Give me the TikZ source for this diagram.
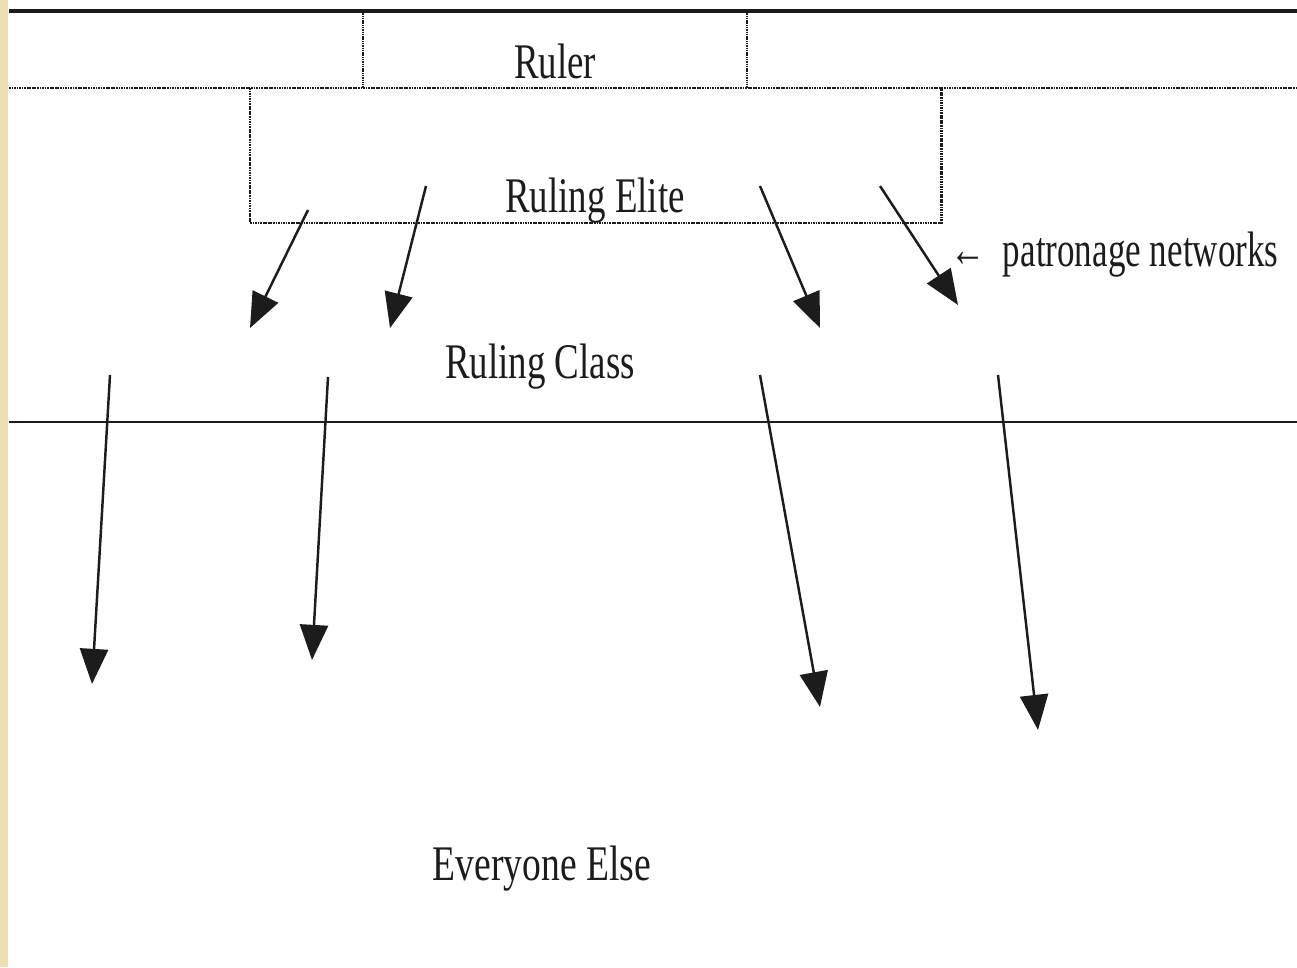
\documentclass[tikz,border=0pt]{standalone}
\usepackage{fontspec}
\setmainfont{Liberation Serif}
\usetikzlibrary{arrows.meta}
\definecolor{paper}{RGB}{238,222,180}
\definecolor{ink}{RGB}{28,28,28}
\begin{document}
\begin{tikzpicture}[x=0.02cm, y=-0.02cm,
  rule/.style={draw=ink, line width=2pt},
  thinrule/.style={draw=ink, line width=1.6pt},
  dotrule/.style={draw=ink, line width=1.7pt, dash pattern=on 1pt off 0.45pt},
  finedot/.style={draw=ink, line width=1.1pt, dash pattern=on 0.8pt off 0.5pt},
  arr/.style={draw=ink, line width=1.4pt, -{Triangle[length=20pt, width=16pt]}},
  lbl/.style={text=ink, inner sep=0pt, anchor=base, font=\fontsize{21}{25}\selectfont}]

  % page and scanned edge
  \fill[white] (0,0) rectangle (1297,967);
  \fill[paper] (0,0) rectangle (8,967);
  \useasboundingbox (0,0) rectangle (1297,967);

  % tiers
  \draw[rule] (9,11) -- (1297,11);
  \draw[dotrule] (9,88) -- (1297,88);
  \draw[finedot] (363,11) -- (363,88);
  \draw[finedot] (747,11) -- (747,88);
  \draw[dotrule] (250,88) -- (250,223) -- (941,223) -- (941,88);
  \draw[thinrule] (9,422) -- (1297,422);

  % labels
  \node[lbl] (ruler) at (555,78) {\scalebox{1}[1.35]{Ruler}};
  \node[lbl] (elite) at (595,212) {\scalebox{1}[1.35]{Ruling Elite}};
  \node[lbl] (class) at (540,378) {\scalebox{1}[1.35]{Ruling Class}};
  \node[lbl] (rest) at (542,880) {\scalebox{1.02}[1.35]{Everyone Else}};
  \node[lbl, anchor=base west] (patron) at (950,266) {\scalebox{0.95}[1.35]{← \ patronage networks}};

  % patronage arrows: elite to ruling class
  \coordinate (a1s) at (308,210); \coordinate (a1t) at (250,328);
  \coordinate (a2s) at (426,186); \coordinate (a2t) at (390,328);
  \coordinate (a3s) at (760,186); \coordinate (a3t) at (820,328);
  \coordinate (a4s) at (880,186); \coordinate (a4t) at (958,305);
  \draw[arr] (a1s) -- (a1t);
  \draw[arr] (a2s) -- (a2t);
  \draw[arr] (a3s) -- (a3t);
  \draw[arr] (a4s) -- (a4t);

  % patronage arrows: ruling class to everyone else
  \coordinate (b1s) at (110,375); \coordinate (b1t) at (92,684);
  \coordinate (b2s) at (328,377); \coordinate (b2t) at (312,660);
  \coordinate (b3s) at (760,375); \coordinate (b3t) at (820,707);
  \coordinate (b4s) at (998,375); \coordinate (b4t) at (1038,730);
  \draw[arr] (b1s) -- (b1t);
  \draw[arr] (b2s) -- (b2t);
  \draw[arr] (b3s) -- (b3t);
  \draw[arr] (b4s) -- (b4t);
\end{tikzpicture}
\end{document}
